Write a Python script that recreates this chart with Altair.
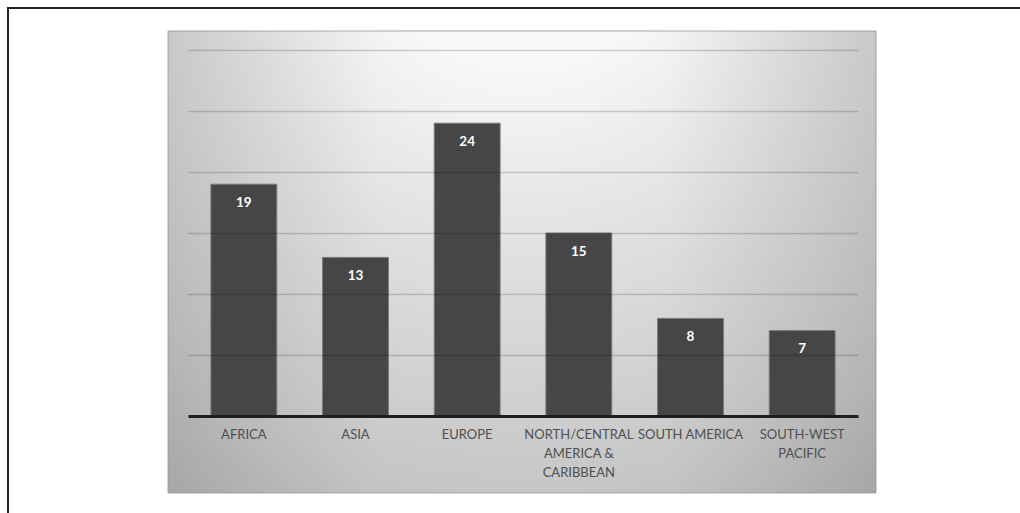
import altair as alt
import pandas as pd

# Regions and counts
regions = [
    "AFRICA",
    "ASIA",
    "EUROPE",
    "NORTH/CENTRAL\nAMERICA &\nCARIBBEAN",
    "SOUTH AMERICA",
    "SOUTH-WEST\nPACIFIC",
]
counts = [19, 13, 24, 15, 8, 7]
grid_values = [5, 10, 15, 20, 25, 30]

df = pd.DataFrame({"region": regions, "count": counts})
one = pd.DataFrame({"k": [0]})

W, H = 670, 366
LEFT, TOP = 188, 50

x_enc = alt.X(
    "region:N",
    sort=regions,
    scale=alt.Scale(paddingInner=0.41, paddingOuter=0.205),
    axis=alt.Axis(
        title=None,
        labelAngle=0,
        labelExpr="split(datum.label, '\\n')",
        labelFont="Lato",
        labelFontSize=13,
        labelColor="#4f4f4f",
        labelPadding=12,
        labelLineHeight=19,
        labelBaseline="top",
        ticks=False,
        domainColor="#1e1e1e",
        domainWidth=3,
        zindex=1,
    ),
)
y_enc = alt.Y(
    "count:Q",
    scale=alt.Scale(domain=[0, 30], nice=False),
    axis=alt.Axis(
        title=None,
        labels=False,
        ticks=False,
        domain=False,
        grid=True,
        values=grid_values,
        gridColor="#000000",
        gridOpacity=0.17,
        gridWidth=1.6,
        zindex=1,
    ),
)

# Outer frame of the figure
frame = alt.Chart(one).mark_rect(
    fill="transparent", stroke="#222222", strokeWidth=2
).encode(
    x=alt.value(8 - LEFT),
    x2=alt.value(1040 - LEFT),
    y=alt.value(8 - TOP),
    y2=alt.value(533 - TOP),
)

# Shaded chart panel: radial light spot at the top centre
panel = alt.Chart(one).mark_rect(
    fill=alt.RadialGradient(
        gradient="radial",
        x1=0.5, y1=0.0, r1=0.0,
        x2=0.5, y2=0.0, r2=1.05,
        stops=[
            alt.GradientStop(color="#ffffff", offset=0.0),
            alt.GradientStop(color="#f7f7f7", offset=0.22),
            alt.GradientStop(color="#dfdfdf", offset=0.48),
            alt.GradientStop(color="#c6c6c6", offset=0.78),
            alt.GradientStop(color="#adadad", offset=1.0),
        ],
    ),
    stroke="#a9a9a9",
    strokeWidth=1,
).encode(
    x=alt.value(168 - LEFT),
    x2=alt.value(876 - LEFT),
    y=alt.value(31 - TOP),
    y2=alt.value(493 - TOP),
)

# Darker side edges of the panel
edges = alt.Chart(one).mark_rect(
    fill=alt.LinearGradient(
        gradient="linear",
        x1=0, y1=0, x2=1, y2=0,
        stops=[
            alt.GradientStop(color="rgba(0,0,0,0.09)", offset=0.0),
            alt.GradientStop(color="rgba(0,0,0,0.0)", offset=0.3),
            alt.GradientStop(color="rgba(0,0,0,0.0)", offset=0.7),
            alt.GradientStop(color="rgba(0,0,0,0.09)", offset=1.0),
        ],
    ),
).encode(
    x=alt.value(168 - LEFT),
    x2=alt.value(876 - LEFT),
    y=alt.value(31 - TOP),
    y2=alt.value(493 - TOP),
)

bars = alt.Chart(df).mark_bar(
    color="#464646", stroke="#7a7a7a", strokeWidth=1
).encode(x=x_enc, y=y_enc)

values = alt.Chart(df).mark_text(
    color="white",
    font="Lato",
    fontSize=13.5,
    fontWeight="bold",
    baseline="middle",
    dy=18.5,
).encode(
    x=alt.X("region:N", sort=regions),
    y=alt.Y("count:Q"),
    text=alt.Text("count:Q"),
)

chart = (
    alt.layer(frame, panel, edges, bars, values)
    .properties(
        width=W,
        height=H,
        padding={"left": LEFT, "top": TOP, "right": 1020 - LEFT - W, "bottom": 513 - TOP - H},
        autosize=alt.AutoSizeParams(type="none"),
        background="white",
    )
    .configure_view(strokeOpacity=0)
)

chart.save("out.html", embed_options={"renderer": "svg", "actions": False})
